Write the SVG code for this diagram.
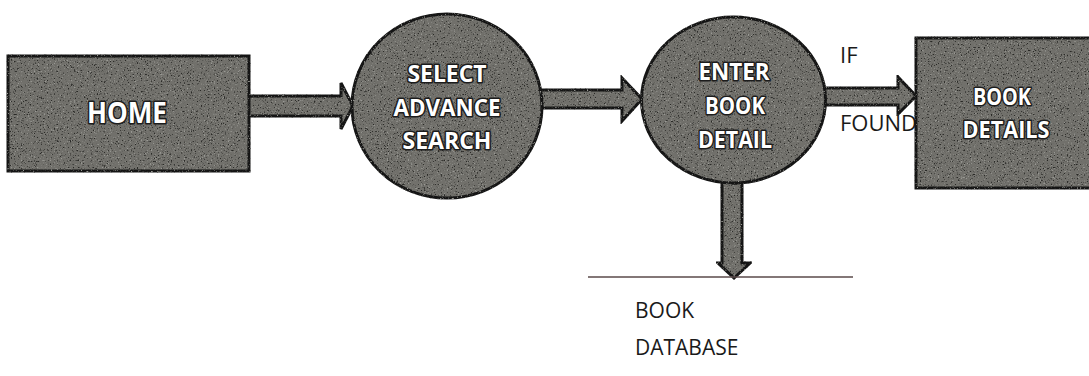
<svg xmlns="http://www.w3.org/2000/svg" width="1089" height="376" viewBox="0 0 1089 376">
  <style>
    .shape { fill: #71706b; stroke: #141414; stroke-width: 3; stroke-linejoin: miter; filter: url(#grain); }
    .lbl { font-family: "Open Sans", "Liberation Sans", sans-serif; font-weight: 700; fill: #ffffff; stroke: #1c1c1c; stroke-width: 3.2; stroke-linejoin: round; paint-order: stroke; text-anchor: middle; }
    .plain { font-family: "Open Sans", "Liberation Sans", sans-serif; font-weight: 400; fill: #1a1a1a; }
    .store { stroke: #5a4a4a; stroke-width: 1.6; fill: none; }
  </style>
  <defs>
    <!-- speckled print texture for filled shapes -->
    <filter id="grain" x="-5%" y="-5%" width="110%" height="110%" color-interpolation-filters="sRGB">
      <feTurbulence type="fractalNoise" baseFrequency="0.7" numOctaves="2" seed="7" result="noise"/>
      <feColorMatrix in="noise" type="matrix" values="0 0 0 0 0.16  0 0 0 0 0.16  0 0 0 0 0.15  6 0 0 0 -3.6" result="dark"/>
      <feComposite in="dark" in2="SourceAlpha" operator="in" result="darkIn"/>
      <feColorMatrix in="noise" type="matrix" values="0 0 0 0 0.6  0 0 0 0 0.6  0 0 0 0 0.58  0 5 0 0 -3.0" result="light"/>
      <feComposite in="light" in2="SourceAlpha" operator="in" result="lightIn"/>
      <feMerge>
        <feMergeNode in="SourceGraphic"/>
        <feMergeNode in="lightIn"/>
        <feMergeNode in="darkIn"/>
      </feMerge>
    </filter>
  </defs>

  <!-- connectors (drawn first so node outlines sit on top of shaft ends) -->
  <g id="connectors">
    <polygon class="shape" points="246,96 341,96 341,83 353,106 341,129 341,116 246,116"/>
    <polygon class="shape" points="540,90 622,90 622,78 642,99 622,121 622,108 540,108"/>
    <polygon class="shape" points="823,88 898,88 898,77 916,96 898,114 898,105 823,105"/>
    <polygon class="shape" points="722,178 742,178 742,263 750,263 734,278 718,263 722,263"/>
    <text class="plain" x="840" y="63" font-size="22">IF</text>
    <text class="plain" x="840" y="131" font-size="22">FOUND</text>
  </g>

  <g id="home">
    <rect class="shape" x="8" y="56" width="241" height="115"/>
    <text class="lbl" x="127" y="123" font-size="28" textLength="80" lengthAdjust="spacingAndGlyphs">HOME</text>
  </g>

  <g id="select-advance-search">
    <ellipse class="shape" cx="447" cy="106" rx="95" ry="92"/>
    <text class="lbl" x="447" y="82" font-size="23.5" textLength="79" lengthAdjust="spacingAndGlyphs">SELECT</text>
    <text class="lbl" x="447" y="116" font-size="23.5" textLength="107" lengthAdjust="spacingAndGlyphs">ADVANCE</text>
    <text class="lbl" x="447" y="149" font-size="23.5" textLength="89" lengthAdjust="spacingAndGlyphs">SEARCH</text>
  </g>

  <g id="enter-book-detail">
    <ellipse class="shape" cx="733.5" cy="100" rx="92" ry="83"/>
    <text class="lbl" x="734" y="80" font-size="24" textLength="71" lengthAdjust="spacingAndGlyphs">ENTER</text>
    <text class="lbl" x="735" y="114" font-size="24" textLength="60" lengthAdjust="spacingAndGlyphs">BOOK</text>
    <text class="lbl" x="735" y="148" font-size="24" textLength="74" lengthAdjust="spacingAndGlyphs">DETAIL</text>
  </g>

  <g id="book-details">
    <rect class="shape" x="916" y="38" width="200" height="150"/>
    <text class="lbl" x="1002" y="105" font-size="24" textLength="58" lengthAdjust="spacingAndGlyphs">BOOK</text>
    <text class="lbl" x="1006" y="138" font-size="24" textLength="87" lengthAdjust="spacingAndGlyphs">DETAILS</text>
  </g>

  <g id="book-database">
    <line class="store" x1="588" y1="277" x2="853" y2="277"/>
    <text class="plain" x="635" y="318" font-size="21">BOOK</text>
    <text class="plain" x="635" y="355" font-size="21">DATABASE</text>
  </g>
</svg>
